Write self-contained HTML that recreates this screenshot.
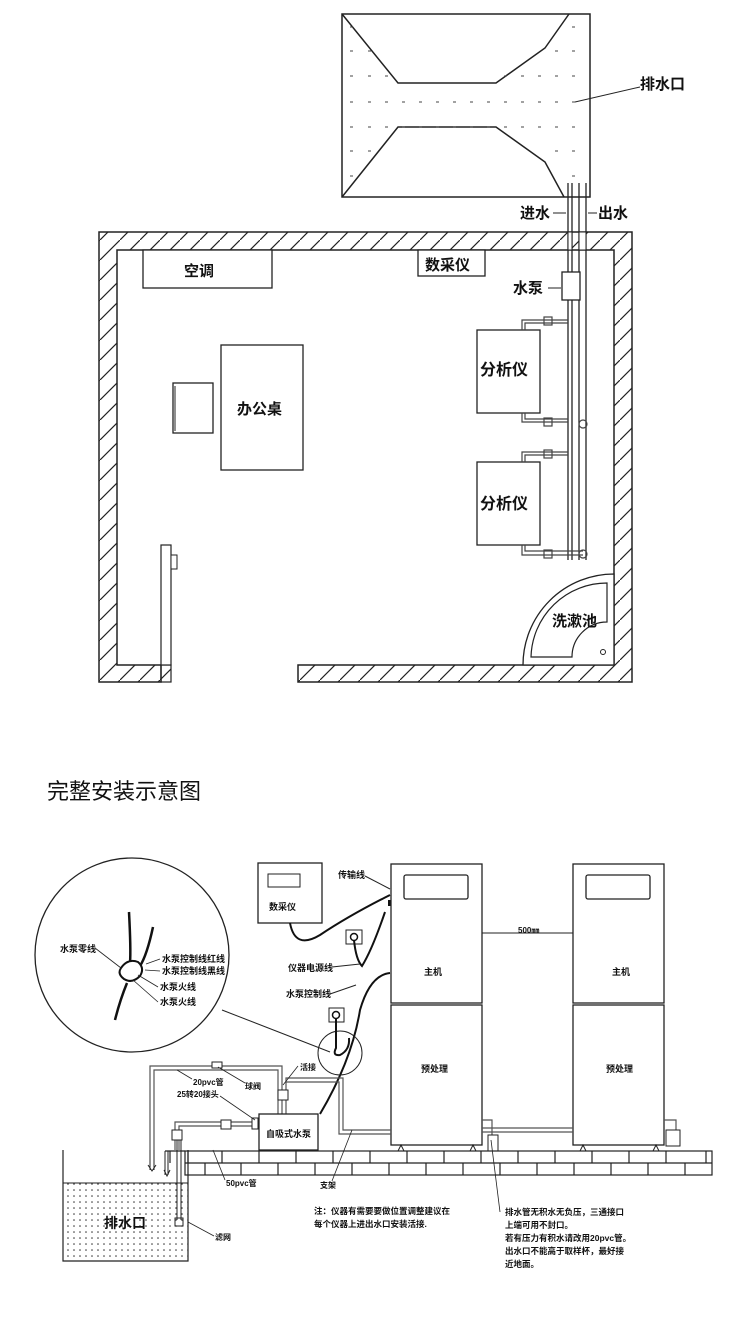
<!DOCTYPE html>
<html><head><meta charset="utf-8">
<style>
html,body{margin:0;padding:0;background:#fff;}
svg{display:block;}
text{font-family:"Liberation Sans","Noto Sans CJK SC",sans-serif;fill:#111;}
.b{font-weight:bold;}
</style></head><body>
<svg width="750" height="1337" viewBox="0 0 750 1337" xmlns="http://www.w3.org/2000/svg">
<defs>
<pattern id="hatch" patternUnits="userSpaceOnUse" width="20" height="20" patternTransform="rotate(0)">
<line x1="0" y1="20" x2="20" y2="0" stroke="#222" stroke-width="1.2"/>
</pattern>
<pattern id="dots" patternUnits="userSpaceOnUse" width="6" height="6">
<circle cx="2" cy="2" r="0.8" fill="#333"/>
</pattern>
</defs>

<!-- Top tank -->
<rect x="342" y="14" width="248" height="183" fill="#fff" stroke="#222" stroke-width="1.5"/>
<polyline points="342,14 398,83 496,83 545,48 569,14" fill="none" stroke="#222" stroke-width="1.5"/>
<polyline points="342,197 398,127 496,127 545,162 564,197" fill="none" stroke="#222" stroke-width="1.5"/>
<g stroke="#444" stroke-width="1">
<path d="M350 27h3M368 51h3M350 51h3M350 76h3M368 76h3M385 76h3M350 151h3M368 151h3M350 176h3" />
<path d="M350 102h3M368 102h3M385 102h3M402 102h3M419 102h3M436 102h3M453 102h3M470 102h3M487 102h3M504 102h3M521 102h3M538 102h3M555 102h3M572 102h3"/>
<path d="M350 127h3M368 127h3M385 127h3M402 127h3M419 127h3M436 127h3M453 127h3M470 127h3M487 127h3M504 127h3M521 127h3M538 127h3M555 127h3M572 127h3"/>
<path d="M572 27h3M555 51h3M572 51h3M504 76h3M521 76h3M538 76h3M555 76h3M572 76h3M555 151h3M572 151h3M572 176h3"/>
</g>
<line x1="640" y1="87" x2="575" y2="102" stroke="#222" stroke-width="1"/>
<text x="640" y="89" font-size="15" class="b">排水口</text>

<!-- pipes -->
<g fill="none" stroke="#222" stroke-width="1.3">
<line x1="568" y1="183" x2="568" y2="560"/><line x1="572" y1="183" x2="572" y2="560"/>
<line x1="579" y1="183" x2="579" y2="560"/><line x1="586" y1="183" x2="586" y2="560"/>
</g>
<text x="520" y="218" font-size="15" class="b">进水</text>
<line x1="553" y1="213" x2="566" y2="213" stroke="#222"/>
<text x="598" y="218" font-size="15" class="b">出水</text>
<line x1="588" y1="213" x2="597" y2="213" stroke="#222"/>

<!-- walls -->
<path d="M99 232 H632 V682 H298 V665 H614 V250 H117 V665 H161 V682 H99 Z" fill="url(#hatch)" stroke="#222" stroke-width="1.5"/>
<rect x="161" y="665" width="10" height="17" fill="url(#hatch)" stroke="#222" stroke-width="1.2"/>
<rect x="161" y="545" width="10" height="120" fill="#fff" stroke="#222" stroke-width="1.2"/>
<rect x="171" y="555" width="6" height="14" fill="#fff" stroke="#222"/>
<!-- redraw pipes over wall -->
<rect x="568" y="232" width="4" height="18" fill="#fff" stroke="#222"/>
<rect x="579" y="232" width="7" height="18" fill="#fff" stroke="#222"/>

<rect x="143" y="250" width="129" height="38" fill="#fff" stroke="#222" stroke-width="1.3"/>
<text x="184" y="276" font-size="15" class="b">空调</text>
<rect x="418" y="250" width="67" height="26" fill="#fff" stroke="#222" stroke-width="1.3"/>
<text x="425" y="270" font-size="15" class="b">数采仪</text>
<rect x="221" y="345" width="82" height="125" fill="#fff" stroke="#222" stroke-width="1.3"/>
<text x="237" y="414" font-size="15" class="b">办公桌</text>
<rect x="173" y="383" width="40" height="50" fill="#fff" stroke="#222" stroke-width="1.3"/>
<line x1="175" y1="386" x2="175" y2="431" stroke="#222"/>

<rect x="562" y="272" width="18" height="28" fill="#fff" stroke="#222" stroke-width="1.3"/>
<text x="513" y="293" font-size="15" class="b">水泵</text>
<line x1="548" y1="288" x2="561" y2="288" stroke="#222"/>

<rect x="477" y="330" width="63" height="83" fill="#fff" stroke="#222" stroke-width="1.3"/>
<text x="480" y="375" font-size="16" class="b">分析仪</text>
<rect x="477" y="462" width="63" height="83" fill="#fff" stroke="#222" stroke-width="1.3"/>
<text x="480" y="509" font-size="16" class="b">分析仪</text>
<g fill="none" stroke="#444" stroke-width="1.2">
<path d="M522 330 V320 H568 M525 330 V323 H568"/>
<path d="M522 413 V422 H568 M525 413 V419 H568"/>
<path d="M522 462 V452 H568 M525 462 V455 H568"/>
<path d="M522 545 V555 H583 M525 545 V551 H583"/>
<rect x="544" y="317" width="8" height="8"/><rect x="544" y="418" width="8" height="8"/>
<rect x="544" y="450" width="8" height="8"/><rect x="544" y="550" width="8" height="8"/>
<circle cx="583" cy="424" r="4"/><circle cx="583" cy="554" r="4"/>
</g>
<!-- sink -->
<path d="M614 574 A91 91 0 0 0 523 665 H614 Z" fill="#fff" stroke="#222" stroke-width="1.3"/>
<path d="M607 583 A76 76 0 0 0 531 657 H572 A35 35 0 0 1 607 622 Z" fill="none" stroke="#222" stroke-width="1.2"/>
<circle cx="603" cy="652" r="2.5" fill="none" stroke="#222"/>
<text x="552" y="626" font-size="15" class="b">洗漱池</text>

<!-- title -->
<text x="47" y="799" font-size="22">完整安装示意图</text>

<!-- bottom diagram -->
<!-- big circle -->
<circle cx="132" cy="955" r="97" fill="none" stroke="#222" stroke-width="1.3"/>
<line x1="222" y1="1010" x2="330" y2="1052" stroke="#222"/>
<g fill="none" stroke="#111" stroke-width="2.5">
<path d="M129 912 Q131 950 130 963"/>
<path d="M153 927 Q147 955 140 966"/>
<path d="M127 983 Q120 1000 115 1020"/>
</g>
<path d="M121 968 Q128 958 138 962 Q145 968 140 976 Q132 984 124 979 Q117 974 121 968 Z" fill="#fff" stroke="#111" stroke-width="2"/>
<g stroke="#222" stroke-width="0.8" fill="none">
<line x1="95" y1="948" x2="121" y2="968"/>
<line x1="160" y1="959" x2="146" y2="964"/>
<line x1="160" y1="971" x2="145" y2="970"/>
<line x1="158" y1="987" x2="138" y2="975"/>
<line x1="158" y1="1002" x2="133" y2="980"/>
</g>
<g font-size="9" class="b">
<text x="60" y="952">水泵零线</text>
<text x="162" y="962">水泵控制线红线</text>
<text x="162" y="974">水泵控制线黑线</text>
<text x="160" y="990">水泵火线</text>
<text x="160" y="1005">水泵火线</text>
</g>

<!-- 数采仪 -->
<rect x="258" y="863" width="64" height="60" fill="#fff" stroke="#222" stroke-width="1.3"/>
<rect x="268" y="874" width="32" height="13" fill="none" stroke="#222"/>
<text x="269" y="910" font-size="9" class="b">数采仪</text>
<path d="M290 923 Q295 950 320 935 Q350 915 390 895" fill="none" stroke="#111" stroke-width="2"/>
<text x="338" y="878" font-size="9" class="b">传输线</text>
<line x1="365" y1="876" x2="390" y2="889" stroke="#222"/>
<rect x="388" y="900" width="3" height="6" fill="#111"/>
<!-- socket 1 -->
<rect x="346" y="930" width="16" height="14" fill="#fff" stroke="#222"/>
<circle cx="354" cy="937" r="3.5" fill="none" stroke="#111" stroke-width="1.5"/>
<path d="M354 940 Q356 960 362 966 Q372 950 385 912" fill="none" stroke="#111" stroke-width="2"/>
<text x="288" y="971" font-size="9" class="b">仪器电源线</text>
<line x1="332" y1="967" x2="360" y2="964" stroke="#222"/>
<text x="286" y="997" font-size="9" class="b">水泵控制线</text>
<line x1="330" y1="994" x2="356" y2="985" stroke="#222"/>
<path d="M390 973 Q370 975 360 1010 Q352 1060 320 1114" fill="none" stroke="#111" stroke-width="2"/>
<!-- socket 2 -->
<rect x="329" y="1008" width="15" height="14" fill="#fff" stroke="#222"/>
<circle cx="336" cy="1015" r="3.5" fill="none" stroke="#111" stroke-width="1.5"/>
<circle cx="340" cy="1053" r="22" fill="none" stroke="#222"/>
<path d="M336 1019 V1048 Q332 1056 340 1055 Q350 1050 349 1038" fill="none" stroke="#111" stroke-width="2"/>

<!-- hosts -->
<g fill="#fff" stroke="#222" stroke-width="1.3">
<rect x="391" y="864" width="91" height="139"/>
<rect x="391" y="1005" width="91" height="140"/>
<rect x="573" y="864" width="91" height="139"/>
<rect x="573" y="1005" width="91" height="140"/>
<rect x="404" y="875" width="64" height="24" rx="2"/>
<rect x="586" y="875" width="64" height="24" rx="2"/>
</g>
<line x1="482" y1="933" x2="573" y2="933" stroke="#222"/>
<text x="518" y="933" font-size="8" class="b">500㎜</text>
<text x="424" y="975" font-size="9" class="b">主机</text>
<text x="612" y="975" font-size="9" class="b">主机</text>
<text x="421" y="1072" font-size="9" class="b">预处理</text>
<text x="606" y="1072" font-size="9" class="b">预处理</text>
<g fill="none" stroke="#222">
<path d="M398 1151 l3-6 l3 6M470 1151 l3-6 l3 6M580 1151 l3-6 l3 6M653 1151 l3-6 l3 6"/>
</g>

<!-- pipes bottom -->
<g fill="none" stroke="#555" stroke-width="1.2">
<path d="M150 1150 V1066 H282 V1114 M154 1150 V1070 H278 V1114"/>
<path d="M286 1114 V1078 H343 V1130 H391 M286 1082 H339 V1134 H391"/>
<path d="M175 1150 V1122 H259 M179 1150 V1126 H259"/>
<path d="M482 1128 H573 M482 1132 H573"/>
<path d="M482 1120 H492 V1142 M664 1120 H676 V1142"/>
</g>
<rect x="212" y="1062" width="10" height="6" fill="#fff" stroke="#222"/>
<rect x="221" y="1120" width="10" height="9" fill="#fff" stroke="#222"/>
<rect x="252" y="1118" width="6" height="11" fill="#fff" stroke="#222"/>
<rect x="278" y="1090" width="10" height="10" fill="#fff" stroke="#222"/>
<rect x="259" y="1114" width="59" height="36" fill="#fff" stroke="#222" stroke-width="1.3"/>
<text x="266" y="1137" font-size="9" class="b">自吸式水泵</text>
<rect x="172" y="1130" width="10" height="10" fill="#fff" stroke="#222"/>
<rect x="488" y="1135" width="10" height="16" fill="#fff" stroke="#222"/>
<rect x="666" y="1130" width="14" height="16" fill="#fff" stroke="#222"/>
<g font-size="8" class="b">
<text x="193" y="1085">20pvc管</text>
<text x="245" y="1089">球阀</text>
<text x="177" y="1097">25转20接头</text>
<text x="300" y="1070">活接</text>
<text x="226" y="1186">50pvc管</text>
<text x="320" y="1188">支架</text>
</g>
<g stroke="#222" stroke-width="0.8">
<line x1="177" y1="1070" x2="192" y2="1079"/>
<line x1="218" y1="1067" x2="245" y2="1083"/>
<line x1="220" y1="1096" x2="255" y2="1120"/>
<line x1="298" y1="1066" x2="283" y2="1085"/>
<line x1="225" y1="1180" x2="213" y2="1150"/>
<line x1="332" y1="1181" x2="352" y2="1130"/>
<line x1="500" y1="1212" x2="491" y2="1140"/>
<line x1="214" y1="1236" x2="188" y2="1222"/>
</g>
<!-- floor -->
<g fill="none" stroke="#222" stroke-width="1.2">
<rect x="185" y="1151" width="527" height="24"/>
<line x1="185" y1="1163" x2="712" y2="1163"/>
<path d="M188 1151v12M222 1151v12M259 1151v12M296 1151v12M333 1151v12M370 1151v12M407 1151v12M444 1151v12M481 1151v12M518 1151v12M555 1151v12M592 1151v12M629 1151v12M666 1151v12M706 1151v12"/>
<path d="M205 1163v12M241 1163v12M278 1163v12M315 1163v12M352 1163v12M389 1163v12M426 1163v12M463 1163v12M500 1163v12M537 1163v12M574 1163v12M611 1163v12M648 1163v12M685 1163v12"/>
<path d="M165 1151H185M170 1151V1163"/>
</g>
<!-- drain tank -->
<rect x="63" y="1183" width="125" height="78" fill="url(#dots)" stroke="none"/>
<path d="M63 1150 V1261 H188 V1150" fill="none" stroke="#222" stroke-width="1.2"/>
<line x1="63" y1="1183" x2="188" y2="1183" stroke="#222"/>
<g stroke="#222" fill="none">
<path d="M150 1150 V1170 M154 1150 V1170 M148 1165 l4 6 l4-6"/>
<path d="M165 1151 V1175 M168 1151 V1175 M164 1170 l3 6 l3-6"/>
<path d="M177 1140 V1220 M181 1140 V1220"/>
<rect x="175" y="1218" width="8" height="8"/>
</g>
<text x="104" y="1228" font-size="14" class="b">排水口</text>
<text x="215" y="1240" font-size="8" class="b">滤网</text>
<g font-size="8.5" class="b">
<text x="314" y="1214">注：仪器有需要要做位置调整建议在</text>
<text x="314" y="1227">每个仪器上进出水口安装活接.</text>
<text x="505" y="1215">排水管无积水无负压，三通接口</text>
<text x="505" y="1228">上端可用不封口。</text>
<text x="505" y="1241">若有压力有积水请改用20pvc管。</text>
<text x="505" y="1254">出水口不能高于取样杯，最好接</text>
<text x="505" y="1267">近地面。</text>
</g>
</svg>
</body></html>
